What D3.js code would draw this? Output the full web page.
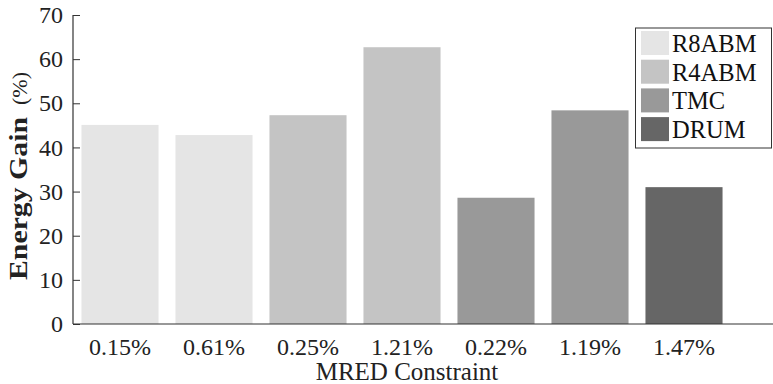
<!DOCTYPE html>
<html><head><meta charset="utf-8">
<script src="https://cdn.jsdelivr.net/npm/d3@7"></script>
<style>body{margin:0;background:#fff}svg{display:block}</style>
</head><body>
<svg id="c" width="773" height="384"></svg>
<script>
const categories = ["0.15%","0.61%","0.25%","1.21%","0.22%","1.19%","1.47%"];
const values = [45.1, 42.8, 47.3, 62.7, 28.6, 48.4, 31.0];
const groups = ["R8ABM","R8ABM","R4ABM","R4ABM","TMC","TMC","DRUM"];
const seriesNames = ["R8ABM","R4ABM","TMC","DRUM"];
const seriesColors = ["#e5e5e5","#c4c4c4","#999999","#666666"];
const yTicks = [0,10,20,30,40,50,60,70];

const svg = d3.select("#c");
const font = "Liberation Serif";
const y = d3.scaleLinear().domain([0,70]).range([324,15]);
const x = d3.scaleBand().domain(categories).range([73,731]).paddingInner(0.18).paddingOuter(0.09);
const color = d3.scaleOrdinal().domain(seriesNames).range(seriesColors);

svg.selectAll("rect.bar").data(values).join("rect").attr("class","bar")
  .attr("x",(d,i)=>x(categories[i])).attr("width",x.bandwidth())
  .attr("y",d=>y(d)).attr("height",d=>y(0)-y(d))
  .attr("fill",(d,i)=>color(groups[i]));

// y axis
const ya = svg.append("g").attr("transform","translate(73,0)")
  .call(d3.axisRight(y).tickValues(yTicks).tickSize(7).tickFormat(""));
ya.select(".domain").remove();
ya.selectAll("line").attr("stroke","#333");
svg.append("line").attr("x1",73).attr("x2",73).attr("y1",y(70)).attr("y2",y(0)).attr("stroke","#333").attr("stroke-width",1.2);
svg.selectAll("text.yt").data(yTicks).join("text").attr("class","yt")
  .attr("x",63).attr("y",d=>y(d)).attr("dy","0.34em").attr("text-anchor","end")
  .attr("font-family",font).attr("font-size",24).attr("fill","#222").text(d=>d);

// x axis
svg.append("line").attr("x1",73).attr("x2",773).attr("y1",y(0)).attr("y2",y(0)).attr("stroke","#333").attr("stroke-width",1.2);
const xa = svg.append("g").attr("transform","translate(0,324)")
  .call(d3.axisBottom(x).tickSize(0).tickPadding(0));
xa.select(".domain").remove();
xa.selectAll("text").attr("y",31).attr("dy",0).attr("font-family",font).attr("font-size",24).attr("fill","#222");

svg.append("text").attr("x",407).attr("y",380).attr("text-anchor","middle")
  .attr("font-family",font).attr("font-size",25).attr("fill","#222").text("MRED Constraint");

// y label
svg.append("text").attr("transform","translate(27,280) rotate(-90)")
  .attr("font-family",font).attr("font-weight","bold").attr("font-size",26)
  .attr("textLength",163).attr("lengthAdjust","spacingAndGlyphs").attr("fill","#222").text("Energy Gain");
svg.append("text").attr("transform","translate(27,105) rotate(-90)")
  .attr("font-family",font).attr("font-size",22).attr("fill","#222").text("(%)");

// legend
const lg = svg.append("g");
lg.append("rect").attr("x",635.5).attr("y",28).attr("width",136).attr("height",120)
  .attr("fill","#fff").attr("stroke","#333").attr("stroke-width",1);
seriesNames.forEach((s,i)=>{
  const yy = 31 + i*28.7;
  lg.append("rect").attr("x",641).attr("y",yy).attr("width",28).attr("height",24).attr("fill",seriesColors[i]);
  lg.append("text").attr("x",672).attr("y",yy+21).attr("font-family",font).attr("font-size",24.5).attr("fill","#111").text(s);
});
</script>
</body></html>
